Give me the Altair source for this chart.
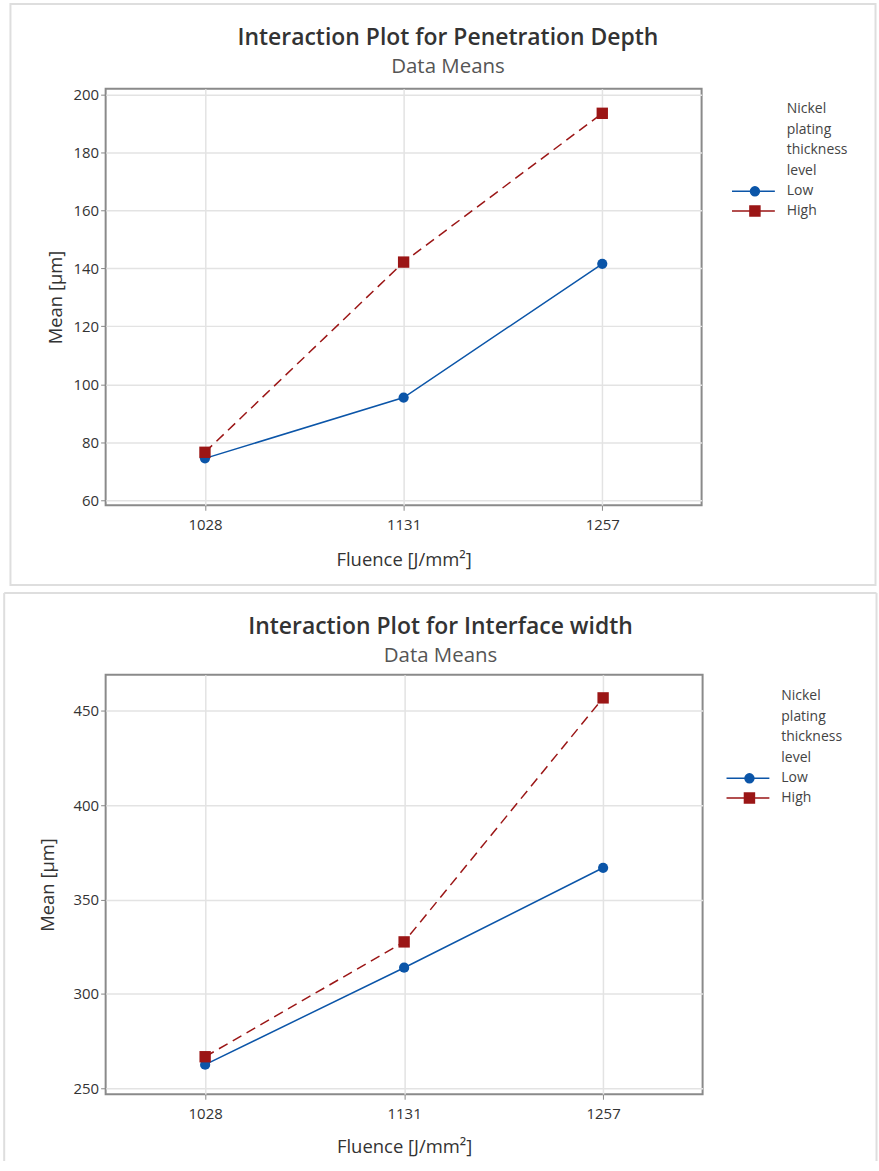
import altair as alt
import pandas as pd

# ---------------- data ----------------
fluence = ["1028", "1131", "1257"]
levels = ["Low", "High"]
depth_low = [74.4, 95.4, 141.6]
depth_high = [76.5, 142.2, 193.6]
iface_low = [262.4, 313.8, 366.8]
iface_high = [266.6, 327.5, 456.9]
depth_ticks = [60, 80, 100, 120, 140, 160, 180, 200]
iface_ticks = [250, 300, 350, 400, 450]
legend_title = ["Nickel", "plating", "thickness", "level"]
titles = ["Interaction Plot for Penetration Depth", "Interaction Plot for Interface width"]
subtitle = "Data Means"
x_title = "Fluence [J/mm²]"
y_title = "Mean [μm]"

# ---------------- style ----------------
BLUE = "#0B55A8"
RED = "#9B1616"
FONT = "Open Sans"
FRAME = "#dedede"

SYM_LOW = "M-62,0H-19M-34.5,0A4.5,4.5,0,1,1,-43.5,0A4.5,4.5,0,1,1,-34.5,0Z"
SYM_HIGH = "M-62,0H-19M-44,-5H-34V5H-44Z"
SYM_EXPR = f"datum.value === 'Low' ? '{SYM_LOW}' : '{SYM_HIGH}'"
COLOR_EXPR = f"datum.value === 'Low' ? '{BLUE}' : '{RED}'"


def make_df(low, high):
    rows = []
    for lvl, vals in (("Low", low), ("High", high)):
        for f, v in zip(fluence, vals):
            rows.append({"Fluence": f, "Level": lvl, "Mean": v})
    return pd.DataFrame(rows)


one = pd.DataFrame({"k": [0]})


def panel(low, high, title_text, ydomain, yticks, w, h, frame_layers, anchor_x,
          title_dx, title_offset, ytitle_pad, xtitle_pad, legend_x, legend_y):
    df = make_df(low, high)
    x = alt.X("Fluence:O",
              scale=alt.Scale(type="point", domain=fluence, padding=0.5),
              axis=alt.Axis(title=x_title, labelAngle=0, grid=True, domain=False,
                            tickSize=5, labelPadding=7, titlePadding=xtitle_pad))
    y = alt.Y("Mean:Q",
              scale=alt.Scale(domain=ydomain, nice=False, zero=False),
              axis=alt.Axis(title=y_title, values=yticks, grid=True, domain=False,
                            tickSize=5, labelPadding=2, titlePadding=ytitle_pad))
    legend = alt.Legend(
        title=legend_title, orient="none", legendX=legend_x, legendY=legend_y, padding=0,
        titleFont=FONT, titleFontSize=14, titleFontWeight="normal", titleColor="#444",
        titleLineHeight=21, titlePadding=6,
        labelFont=FONT, labelFontSize=14, labelColor="#444", labelOffset={"expr": "-14"},
        rowPadding=3.7, symbolSize=4, symbolStrokeWidth=1.5, symbolOpacity=1,
        symbolType={"expr": SYM_EXPR},
        symbolStrokeColor={"expr": COLOR_EXPR},
        symbolFillColor={"expr": COLOR_EXPR},
    )
    color = alt.Color("Level:N", scale=alt.Scale(domain=levels, range=[BLUE, RED]), legend=legend)
    base = alt.Chart(df)
    line_low = base.transform_filter(alt.datum.Level == "Low").mark_line(
        strokeWidth=1.5).encode(x=x, y=y, color=color)
    line_high = base.transform_filter(alt.datum.Level == "High").mark_line(
        strokeWidth=1.5, strokeDash=[10, 6]).encode(x=x, y=y, color=color)
    pt_low = base.transform_filter(alt.datum.Level == "Low").mark_point(
        filled=True, opacity=1, shape="circle", size=105).encode(x=x, y=y, color=color)
    pt_high = base.transform_filter(alt.datum.Level == "High").mark_point(
        filled=True, opacity=1, shape="square", size=130).encode(x=x, y=y, color=color)
    anchor = alt.Chart(one).mark_rule(strokeOpacity=0, strokeWidth=0).encode(
        x=alt.value(anchor_x), y=alt.value(0), y2=alt.value(1))
    return alt.layer(*frame_layers, anchor, line_low, line_high, pt_low, pt_high).properties(
        width=w, height=h,
        title=alt.TitleParams(title_text, subtitle=subtitle, dx=title_dx, offset=title_offset),
    )


# frames (decoration around each panel)
frame1 = [alt.Chart(one).mark_rect(fill="transparent", stroke=FRAME, strokeWidth=2).encode(
    x=alt.value(-95.5), x2=alt.value(772.5), y=alt.value(-85), y2=alt.value(498))]
frame2 = [
    alt.Chart(one).mark_rule(stroke=FRAME, strokeWidth=2).encode(
        x=alt.value(-101.8), x2=alt.value(773.5), y=alt.value(-82)),
    alt.Chart(one).mark_rule(stroke=FRAME, strokeWidth=2).encode(
        x=alt.value(-101.8), y=alt.value(-82), y2=alt.value(488)),
    alt.Chart(one).mark_rule(stroke=FRAME, strokeWidth=2).encode(
        x=alt.value(773.5), y=alt.value(-82), y2=alt.value(488)),
]

p1 = panel(depth_low, depth_high, titles[0], [58.2, 202.1], depth_ticks, 598, 418,
           frame1, -104.5, 44.5, -75, 8, 18, 683.5, 13)
p2 = panel(iface_low, iface_high, titles[1], [246.7, 469.2], iface_ticks, 599, 421,
           frame2, -104.5, 36.5, -75, 16, 16, 678, 14)

chart = alt.vconcat(p1, p2, spacing=4).resolve_scale(
    color="independent"
).resolve_legend(
    color="independent"
).properties(
    padding={"left": 0, "top": 0, "right": 0, "bottom": 0}, background="white"
).configure_view(
    stroke="#8a8a8a", strokeWidth=2
).configure_axis(
    labelFont=FONT, labelFontSize=15, labelColor="#333",
    titleFont=FONT, titleFontSize=18.5, titleFontWeight="normal", titleColor="#333",
    gridColor="#e3e3e3", gridWidth=1.5, tickColor="#888", tickWidth=1,
).configure_title(
    font=FONT, fontSize=23, fontWeight=600, color="#333",
    subtitleFont=FONT, subtitleFontSize=20.5, subtitleColor="#555", subtitlePadding=7,
    anchor="middle", frame="group",
)

chart.save("out.html", embed_options={"renderer": "svg", "actions": False})
